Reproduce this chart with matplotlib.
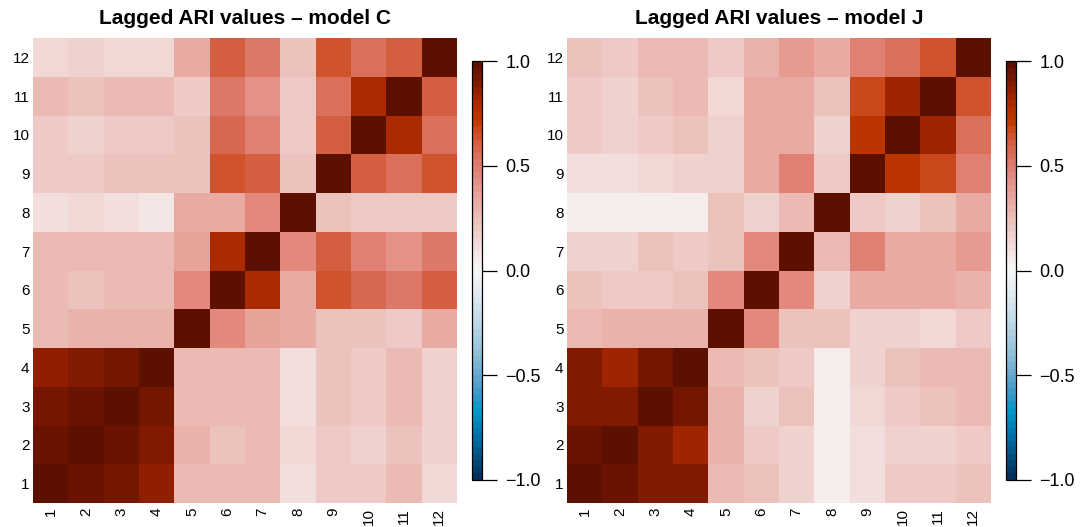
import numpy as np
import matplotlib
matplotlib.use("Agg")
import matplotlib.pyplot as plt
from matplotlib.colors import LinearSegmentedColormap

plt.rcParams['font.family'] = ['Liberation Sans', 'DejaVu Sans']

# lag labels (months)
lags = [str(i) for i in range(1, 13)]

# ARI between lags, rows = lag 1..12 (bottom to top), cols = lag 1..12
ari_C = np.array([
    [1.00, 0.96, 0.92, 0.86, 0.28, 0.27, 0.27, 0.12, 0.21, 0.21, 0.25, 0.15],
    [0.96, 1.00, 0.95, 0.88, 0.31, 0.23, 0.27, 0.15, 0.21, 0.18, 0.24, 0.17],
    [0.92, 0.95, 1.00, 0.93, 0.28, 0.27, 0.26, 0.12, 0.23, 0.21, 0.25, 0.16],
    [0.86, 0.88, 0.92, 1.00, 0.28, 0.27, 0.26, 0.10, 0.23, 0.20, 0.25, 0.16],
    [0.28, 0.31, 0.30, 0.30, 1.00, 0.44, 0.36, 0.32, 0.22, 0.22, 0.20, 0.32],
    [0.27, 0.23, 0.27, 0.27, 0.44, 1.00, 0.80, 0.32, 0.63, 0.58, 0.53, 0.60],
    [0.27, 0.27, 0.25, 0.25, 0.36, 0.80, 1.00, 0.44, 0.60, 0.47, 0.41, 0.50],
    [0.12, 0.15, 0.12, 0.09, 0.32, 0.32, 0.44, 1.00, 0.23, 0.20, 0.20, 0.20],
    [0.21, 0.21, 0.23, 0.23, 0.23, 0.63, 0.61, 0.23, 1.00, 0.60, 0.55, 0.64],
    [0.21, 0.18, 0.21, 0.21, 0.23, 0.58, 0.47, 0.20, 0.60, 1.00, 0.80, 0.55],
    [0.25, 0.24, 0.25, 0.25, 0.20, 0.52, 0.42, 0.20, 0.55, 0.80, 1.00, 0.60],
    [0.15, 0.17, 0.15, 0.15, 0.32, 0.60, 0.50, 0.22, 0.64, 0.55, 0.60, 1.00],
])

ari_J = np.array([
    [1.00, 0.96, 0.88, 0.88, 0.25, 0.23, 0.17, 0.04, 0.10, 0.19, 0.21, 0.24],
    [0.96, 1.00, 0.89, 0.84, 0.30, 0.20, 0.17, 0.04, 0.10, 0.17, 0.18, 0.20],
    [0.88, 0.89, 1.00, 0.92, 0.30, 0.18, 0.23, 0.05, 0.15, 0.19, 0.23, 0.25],
    [0.88, 0.84, 0.92, 1.00, 0.28, 0.23, 0.20, 0.05, 0.17, 0.23, 0.28, 0.25],
    [0.25, 0.30, 0.30, 0.30, 1.00, 0.46, 0.24, 0.23, 0.17, 0.16, 0.15, 0.20],
    [0.23, 0.20, 0.20, 0.22, 0.46, 1.00, 0.44, 0.16, 0.34, 0.34, 0.32, 0.31],
    [0.17, 0.17, 0.23, 0.20, 0.24, 0.44, 1.00, 0.28, 0.47, 0.34, 0.34, 0.40],
    [0.04, 0.04, 0.05, 0.05, 0.23, 0.16, 0.28, 1.00, 0.20, 0.16, 0.24, 0.33],
    [0.10, 0.10, 0.15, 0.17, 0.17, 0.34, 0.47, 0.20, 1.00, 0.74, 0.68, 0.48],
    [0.19, 0.17, 0.19, 0.23, 0.16, 0.34, 0.34, 0.16, 0.74, 1.00, 0.84, 0.56],
    [0.21, 0.18, 0.23, 0.28, 0.15, 0.32, 0.34, 0.23, 0.68, 0.84, 1.00, 0.63],
    [0.24, 0.20, 0.25, 0.25, 0.20, 0.31, 0.40, 0.33, 0.48, 0.56, 0.63, 1.00],
])

# blue - white - red ramp with a cyan / orange shoulder
stops = [
    (0.000, '#06305a'), (0.100, '#0070a8'), (0.160, '#0098c8'),
    (0.200, '#3a98c8'), (0.250, '#6aaad0'), (0.300, '#90c0d8'),
    (0.375, '#c0d8e6'), (0.450, '#e2ecf2'), (0.500, '#f8f8f8'),
    (0.550, '#f3e2e0'), (0.625, '#ecc0ba'), (0.700, '#e69a90'),
    (0.750, '#e07e70'), (0.800, '#d6644c'), (0.835, '#cd4e22'),
    (0.860, '#c23800'), (0.900, '#b02c00'), (0.930, '#962200'),
    (0.960, '#7a1800'), (1.000, '#5e1000'),
]
cmap = LinearSegmentedColormap.from_list('ari', stops, N=64)

fig = plt.figure(figsize=(10.8, 5.27), dpi=100)
W, H = 1080, 527

def px(x0, y0, x1, y1):
    return [x0 / W, 1 - y1 / H, (x1 - x0) / W, (y1 - y0) / H]

panels = [
    (ari_C, 'Lagged ARI values \u2013 model C', 33, 457, 472, 482),
    (ari_J, 'Lagged ARI values \u2013 model J', 567, 991, 1006, 1016),
]

for data, title, x0, x1, c0, c1 in panels:
    ax = fig.add_axes(px(x0, 38, x1, 503))
    im = ax.imshow(data, cmap=cmap, vmin=-1, vmax=1, origin='lower',
                   aspect='auto', interpolation='nearest')
    ax.set_xticks(range(12))
    ax.set_xticklabels(lags, rotation=90, fontsize=11)
    ax.set_yticks(range(12))
    ax.set_yticklabels(lags, fontsize=11)
    ax.tick_params(axis='y', length=0, pad=2.5)
    ax.tick_params(axis='x', length=0, pad=3.5)
    for s in ax.spines.values():
        s.set_visible(False)
    ax.set_title(title, fontsize=15, fontweight='bold', pad=10)

    cax = fig.add_axes(px(c0, 61, c1, 480))
    cb = fig.colorbar(im, cax=cax, ticks=[-1, -0.5, 0, 0.5, 1])
    cb.ax.set_yticklabels(['\u22121.0', '\u22120.5', '0.0', '0.5', '1.0'])
    cb.ax.tick_params(labelsize=13, length=11, width=0.9, pad=6)
    cb.outline.set_linewidth(0.9)

fig.savefig('out.png', dpi=100)
